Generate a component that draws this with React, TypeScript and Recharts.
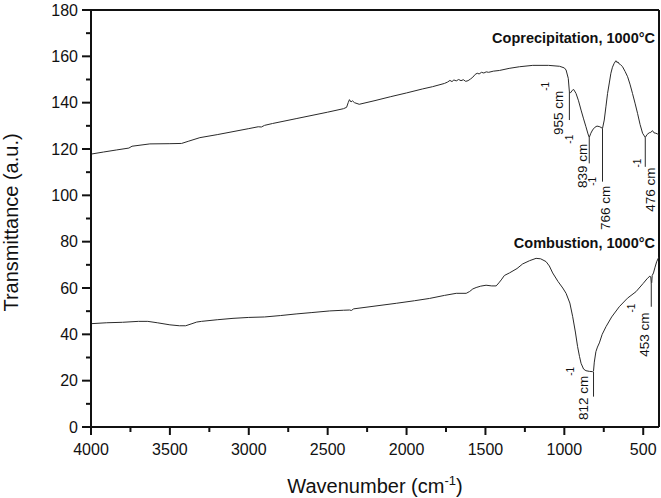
import React from 'react';
import { LineChart, Line, XAxis, YAxis, ReferenceLine, ReferenceDot, Label } from 'recharts';

const FONT = '"Liberation Sans", Arial, Helvetica, sans-serif';
const INK = '#111';
const CURVE = '#2a2a2a';

// ---- data ----
const coprecipitationWavenumber = [
  4000, 3920, 3837, 3760, 3740, 3627, 3500, 3426, 3380, 3310, 3200, 3100, 3000, 2940, 2920, 2900, 2850,
  2700, 2500, 2400, 2380, 2370, 2362, 2352, 2343, 2330, 2300, 2200, 2100, 2000, 1900, 1835, 1760, 1740,
  1725, 1712, 1700, 1685, 1670, 1655, 1640, 1625, 1610, 1595, 1580, 1565, 1552, 1540, 1525, 1510, 1495,
  1480, 1450, 1411, 1350, 1285, 1200, 1100, 1030, 1000, 989, 975, 968, 960, 950, 941, 926, 910, 894, 878,
  863, 850, 842, 832, 821, 808, 793, 775, 758, 747, 736, 726, 715, 705, 695, 684, 678, 673, 666, 660, 652,
  645, 631, 615, 599, 584, 568, 552, 536, 520, 504, 487, 475, 462, 452, 441, 432, 420, 410, 400,
];
const coprecipitationTransmittance = [
  117.8, 118.7, 119.6, 120.4, 121.2, 122.2, 122.3, 122.4, 123.4, 124.9, 126.2, 127.5, 128.8, 129.6, 129.5,
  130.2, 131.0, 133.1, 135.9, 137.4, 138.0, 140.0, 141.3, 140.3, 140.8, 140.0, 139.3, 140.9, 142.6, 144.2,
  145.9, 146.9, 148.3, 148.9, 149.6, 149.1, 149.8, 149.4, 150.0, 149.5, 149.9, 149.2, 149.5, 150.2, 151.0,
  152.2, 152.7, 152.4, 153.1, 152.8, 153.3, 153.1, 153.6, 153.9, 154.8, 155.5, 156.1, 156.1, 155.7, 155.0,
  154.1, 150.5, 144.7, 144.3, 145.3, 145.7, 144.0, 140.8, 136.8, 133.0, 129.6, 126.5, 125.0, 126.8, 128.2,
  129.3, 129.9, 129.6, 128.9, 132.5, 138.5, 144.0, 148.5, 152.7, 155.3, 157.0, 157.6, 158.1, 157.3, 157.6,
  156.7, 156.5, 155.5, 153.5, 151.2, 148.0, 144.0, 139.8, 135.4, 130.6, 126.8, 125.0, 126.3, 127.0, 127.2,
  127.9, 127.0, 126.8, 126.5, 126.0,
];

const combustionWavenumber = [
  4000, 3900, 3800, 3700, 3640, 3580, 3500, 3440, 3400, 3360, 3330, 3300, 3200, 3100, 3000, 2900, 2800,
  2700, 2600, 2487, 2400, 2361, 2350, 2335, 2200, 2065, 1950, 1854, 1760, 1685, 1622, 1600, 1580, 1559,
  1530, 1496, 1460, 1432, 1415, 1400, 1380, 1348, 1300, 1264, 1220, 1179, 1150, 1116, 1095, 1074, 1040,
  1010, 989, 965, 947, 930, 916, 904, 894, 878, 863, 840, 821, 815, 810, 800, 790, 778, 760, 736, 700, 652,
  600, 546, 500, 473, 458, 452, 449, 446, 443, 435, 425, 415, 405, 400,
];
const combustionTransmittance = [
  44.6, 45.0, 45.2, 45.6, 45.6, 45.0, 44.1, 43.7, 43.7, 44.6, 45.3, 45.6, 46.3, 46.9, 47.3, 47.5, 48.1, 48.8,
  49.4, 50.1, 50.4, 50.5, 50.3, 51.0, 52.2, 53.4, 54.5, 55.5, 56.8, 57.7, 57.7, 58.5, 59.6, 60.2, 60.8, 61.2,
  60.9, 60.9, 62.2, 63.5, 65.4, 66.5, 68.4, 70.4, 71.8, 72.8, 72.6, 71.4, 69.5, 66.5, 62.8, 60.0, 57.7, 53.5,
  47.6, 41.0, 34.7, 30.5, 27.5, 25.0, 24.3, 24.0, 23.9, 24.2, 28.0, 32.5, 34.5, 36.3, 40.0, 43.3, 47.5, 51.9,
  55.6, 58.4, 62.0, 64.2, 65.1, 64.8, 62.0, 62.4, 65.4, 66.5, 69.0, 71.3, 72.8, 73.5,
];

const xTicks = [4000, 3750, 3500, 3250, 3000, 2750, 2500, 2250, 2000, 1750, 1500, 1250, 1000, 750, 500];
const yTicks = [0, 10, 20, 30, 40, 50, 60, 70, 80, 90, 100, 110, 120, 130, 140, 150, 160, 170, 180];

// band markers
const markerLabels = ['955', '839', '766', '476', '812', '453'];
const markerWavenumber = [968, 842, 758, 487, 815, 449];
const markerTop = [144.7, 125.0, 128.9, 125.0, 23.9, 62.0];
const markerBottom = [132.5, 113.8, 105.9, 112.3, 13.1, 51.9];
const markerLabelStart = [126.0, 103.2, 85.0, 92.9, 3.0, 30.3];

// sample titles
const sampleTitles = ['Coprecipitation, 1000°C', 'Combustion, 1000°C'];
const sampleTitleY = [165.9, 77.4];

// style-only pixel offsets of the rotated band labels relative to their marker line
const markerLabelDx = [-6.5, -2, 7, 9.5, -6, -2];

const copData = coprecipitationWavenumber.map((w, i) => ({ w, v: coprecipitationTransmittance[i] }));
const comData = combustionWavenumber.map((w, i) => ({ w, v: combustionTransmittance[i] }));

const XTick = (props: any) => {
  const { x, y, payload } = props;
  const major = payload.value % 500 === 0;
  return (
    <g>
      <line x1={x} y1={y} x2={x} y2={y + (major ? 8 : 5)} stroke={INK} strokeWidth={2} />
      {major && (
        <text x={x} y={y + 28} textAnchor="middle" fontFamily={FONT} fontSize={16} fill={INK}>
          {payload.value}
        </text>
      )}
    </g>
  );
};

const YTick = (props: any) => {
  const { x, y, payload } = props;
  const major = payload.value % 20 === 0;
  return (
    <g>
      <line x1={x} y1={y} x2={x - (major ? 9 : 5)} y2={y} stroke={INK} strokeWidth={2} />
      {major && (
        <text x={x - 13} y={y} dy="0.36em" textAnchor="end" fontFamily={FONT} fontSize={16} fill={INK}>
          {payload.value}
        </text>
      )}
    </g>
  );
};

const XTitle = (props: any) => {
  const vb = props.viewBox || {};
  const cx = vb.x + vb.width / 2;
  const y = vb.y + 66;
  return (
    <text x={cx} y={y} textAnchor="middle" fontFamily={FONT} fontSize={20} fill={INK}>
      Wavenumber (cm
      <tspan dy={-8} fontSize={13}>-1</tspan>
      <tspan dy={8} fontSize={20}>)</tspan>
    </text>
  );
};

const YTitle = (props: any) => {
  const vb = props.viewBox || {};
  const x = vb.x + 18;
  const y = vb.y + vb.height / 2 + 4;
  return (
    <text
      x={x}
      y={y}
      transform={`rotate(-90 ${x} ${y})`}
      textAnchor="middle"
      fontFamily={FONT}
      fontSize={20}
      fill={INK}
    >
      Transmittance (a.u.)
    </text>
  );
};

const makeBandLabel = (text: string, dx: number) => (props: any) => {
  const { cx, cy } = props;
  const x = cx + dx;
  return (
    <text x={x} y={cy} transform={`rotate(-90 ${x} ${cy})`} fontFamily={FONT} fontSize={13.5} fill={INK}>
      {text} cm
      <tspan dy={-14} fontSize={10}>-1</tspan>
    </text>
  );
};

const makeTitle = (text: string) => (props: any) => {
  const { cx, cy } = props;
  return (
    <text x={cx - 4} y={cy} textAnchor="end" fontFamily={FONT} fontSize={14.5} fontWeight="bold" fill={INK}>
      {text}
    </text>
  );
};

export default function App() {
  return (
    <div style={{ position: 'absolute', left: 0, top: 0, width: 661, height: 498, background: '#fff' }}>
      <LineChart width={661} height={498} margin={{ top: 10, right: 2, left: 0, bottom: 0 }}>
        <XAxis
          type="number"
          dataKey="w"
          domain={[400, 4000]}
          reversed
          ticks={xTicks}
          interval={0}
          tick={<XTick />}
          tickLine={false}
          tickSize={0}
          tickMargin={0}
          axisLine={{ stroke: INK, strokeWidth: 2 }}
          height={71}
          allowDataOverflow
        >
          <Label content={<XTitle />} />
        </XAxis>
        <YAxis
          type="number"
          domain={[0, 180]}
          ticks={yTicks}
          interval={0}
          tick={<YTick />}
          tickLine={false}
          tickSize={0}
          tickMargin={0}
          axisLine={{ stroke: INK, strokeWidth: 2 }}
          width={91}
          allowDataOverflow
        >
          <Label content={<YTitle />} />
        </YAxis>
        <ReferenceLine y={180} stroke={INK} strokeWidth={2} />
        <ReferenceLine x={400} stroke={INK} strokeWidth={2} />
        <Line
          data={copData}
          dataKey="v"
          type="linear"
          stroke={CURVE}
          strokeWidth={1}
          dot={false}
          activeDot={false}
          isAnimationActive={false}
        />
        <Line
          data={comData}
          dataKey="v"
          type="linear"
          stroke={CURVE}
          strokeWidth={1}
          dot={false}
          activeDot={false}
          isAnimationActive={false}
        />
        {markerWavenumber.map((w, i) => (
          <ReferenceLine
            key={`m${i}`}
            segment={[
              { x: w, y: markerTop[i] },
              { x: w, y: markerBottom[i] },
            ]}
            stroke={CURVE}
            strokeWidth={1}
          />
        ))}
        {markerWavenumber.map((w, i) => (
          <ReferenceDot
            key={`l${i}`}
            x={w}
            y={markerLabelStart[i]}
            r={0}
            shape={makeBandLabel(markerLabels[i], markerLabelDx[i])}
          />
        ))}
        {sampleTitles.map((t, i) => (
          <ReferenceDot key={`t${i}`} x={400} y={sampleTitleY[i]} r={0} shape={makeTitle(t)} />
        ))}
      </LineChart>
    </div>
  );
}
